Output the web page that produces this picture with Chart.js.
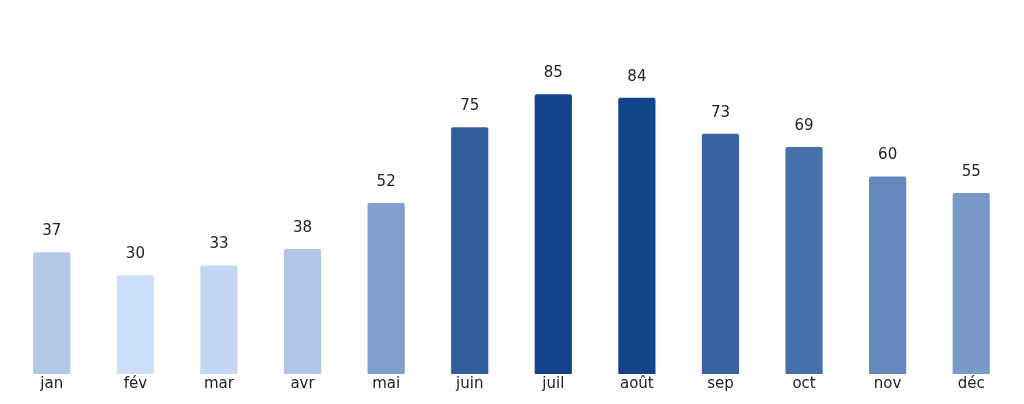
<!DOCTYPE html>
<html lang="fr">
<head>
  <meta charset="UTF-8" />
  <title>Valeurs mensuelles</title>
  <script src="https://cdn.jsdelivr.net/npm/chart.js"></script>
  <style>
    html, body { margin: 0; padding: 0; background: #fff; }
    #wrap { width: 1024px; height: 404px; }
  </style>
</head>
<body>
  <div id="wrap"><canvas id="monthChart"></canvas></div>

  <script>
    const months = ['jan', 'fév', 'mar', 'avr', 'mai', 'juin', 'juil', 'août', 'sep', 'oct', 'nov', 'déc'];
    const values = [37, 30, 33, 38, 52, 75, 85, 84, 73, 69, 60, 55];
    const barColors = ['#b2c8e9', '#cddff8', '#c3d6f4', '#b0c5e8', '#7fa0cc', '#335e9e', '#12428a', '#144488',
                       '#3763a0', '#4670a9', '#6689bd', '#7898c7'];

    // draws the number above each bar
    const valueLabels = {
      id: 'valueLabels',
      afterDatasetsDraw(chart) {
        const ctx = chart.ctx;
        const meta = chart.getDatasetMeta(0);
        ctx.save();
        ctx.font = '15px "DejaVu Sans", sans-serif';
        ctx.fillStyle = '#222';
        ctx.textAlign = 'center';
        ctx.textBaseline = 'middle';
        meta.data.forEach((bar, i) => {
          ctx.fillText(String(values[i]), bar.x, bar.y - 21);
        });
        ctx.restore();
      }
    };

    new Chart(document.getElementById('monthChart'), {
      type: 'bar',
      data: {
        labels: months,
        datasets: [{
          data: values,
          backgroundColor: barColors,
          barPercentage: 0.445,
          categoryPercentage: 1.0,
          borderRadius: { topLeft: 2, topRight: 2 },
          borderSkipped: 'bottom'
        }]
      },
      options: {
        responsive: true,
        maintainAspectRatio: false,
        animation: false,
        layout: { padding: { top: 45, left: 10, right: 11, bottom: 10 } },
        plugins: {
          legend: { display: false },
          tooltip: { enabled: false }
        },
        scales: {
          x: {
            grid: { display: false, drawTicks: false },
            border: { display: false },
            ticks: {
              color: '#222',
              font: { family: '"DejaVu Sans", sans-serif', size: 15 },
              padding: 1
            }
          },
          y: {
            display: false,
            min: 0,
            max: 100
          }
        }
      },
      plugins: [valueLabels]
    });
  </script>
</body>
</html>
